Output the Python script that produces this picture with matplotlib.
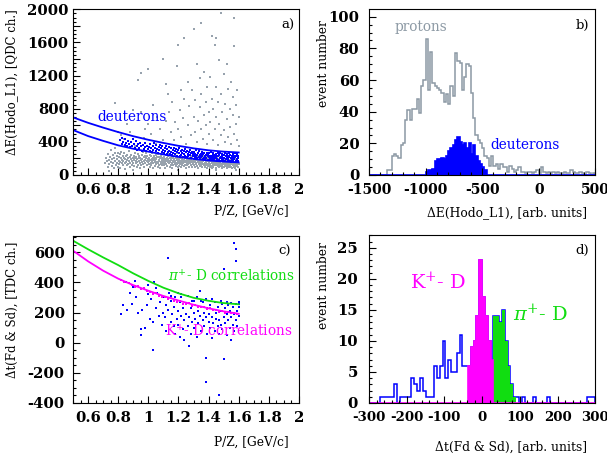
import numpy as np
import matplotlib
matplotlib.use("Agg")
import matplotlib.pyplot as plt
from matplotlib.ticker import MultipleLocator, FuncFormatter

plt.rcParams['font.family'] = ['DejaVu Serif']
plt.rcParams['mathtext.fontset'] = 'dejavuserif'
plt.rcParams['axes.unicode_minus'] = False

GRAY = '#97a2ad'
BLUE = '#0000ff'
MAG = '#ff00ff'
GREEN = '#11dd11'

# ---------------- panel a data ----------------
gray_band_pts = [
(0.712,140),(0.718,210),(0.724,165),(0.729,95),(0.733,250),(0.738,185),(0.741,130),(0.746,220),(0.749,160),(0.753,300),(0.757,110),(0.760,195),(0.764,240),(0.768,150),(0.771,80),(0.775,205),(0.779,175),(0.782,270),(0.786,125),(0.789,230),(0.792,190),(0.795,145),(0.797,100),(0.799,260),(0.776,330),
(0.802,175),(0.805,215),(0.807,130),(0.810,250),(0.812,160),(0.815,90),(0.818,200),(0.821,280),(0.823,145),(0.826,185),(0.829,230),(0.831,115),(0.834,170),(0.837,210),(0.840,260),(0.842,140),(0.845,195),(0.848,75),(0.851,225),(0.853,160),(0.856,120),(0.859,245),(0.861,180),(0.864,205),(0.867,135),(0.870,290),(0.872,165),(0.875,100),(0.878,220),(0.881,150),(0.884,190),(0.887,240),(0.889,125),(0.893,175),(0.897,210),
(0.901,150),(0.903,235),(0.906,185),(0.908,110),(0.911,205),(0.913,265),(0.916,140),(0.918,175),(0.921,220),(0.923,95),(0.926,190),(0.928,160),(0.931,250),(0.933,125),(0.936,200),(0.938,170),(0.941,230),(0.943,145),(0.946,80),(0.948,210),(0.951,180),(0.953,120),(0.956,240),(0.958,155),(0.961,195),(0.963,275),(0.966,135),(0.968,215),(0.971,165),(0.973,100),(0.976,185),(0.978,225),(0.981,145),(0.983,205),(0.986,260),(0.988,115),(0.991,175),(0.993,235),(0.996,155),(0.998,195),
(1.002,130),(1.004,210),(1.007,170),(1.009,245),(1.011,95),(1.013,185),(1.016,150),(1.018,225),(1.020,120),(1.023,195),(1.025,165),(1.027,260),(1.029,140),(1.032,205),(1.034,80),(1.036,180),(1.038,230),(1.041,155),(1.043,110),(1.045,200),(1.047,170),(1.050,240),(1.052,135),(1.054,190),(1.056,215),(1.059,160),(1.061,100),(1.063,250),(1.065,145),(1.068,185),(1.070,125),(1.072,220),(1.074,175),(1.077,90),(1.079,200),(1.081,155),(1.083,235),(1.086,130),(1.088,180),(1.090,210),(1.092,115),(1.095,165),(1.097,195),(1.099,145),(1.094,270),
(1.102,175),(1.104,120),(1.106,215),(1.109,150),(1.111,195),(1.113,90),(1.115,240),(1.118,165),(1.120,135),(1.122,205),(1.124,180),(1.127,110),(1.129,225),(1.131,155),(1.133,190),(1.136,140),(1.138,255),(1.140,170),(1.142,100),(1.145,210),(1.147,160),(1.149,125),(1.151,185),(1.154,230),(1.156,145),(1.158,200),(1.160,85),(1.163,175),(1.165,120),(1.167,215),(1.169,155),(1.172,190),(1.174,135),(1.176,245),(1.178,170),(1.181,105),(1.183,200),(1.185,150),(1.187,180),(1.190,130),(1.192,220),(1.194,160),(1.196,95),(1.198,190),(1.188,265),
(1.201,140),(1.203,185),(1.205,110),(1.208,210),(1.210,160),(1.212,130),(1.214,235),(1.217,175),(1.219,95),(1.221,195),(1.223,150),(1.226,120),(1.228,220),(1.230,165),(1.232,140),(1.235,185),(1.237,105),(1.239,250),(1.241,155),(1.244,200),(1.246,125),(1.248,175),(1.250,90),(1.253,215),(1.255,145),(1.257,180),(1.259,115),(1.262,230),(1.264,160),(1.266,135),(1.268,195),(1.271,100),(1.273,170),(1.275,210),(1.277,140),(1.280,185),(1.282,120),(1.284,155),(1.286,225),(1.289,165),(1.291,95),(1.293,200),(1.295,135),(1.297,175),(1.299,150),
(1.301,125),(1.303,190),(1.305,155),(1.308,100),(1.310,215),(1.312,170),(1.314,135),(1.317,240),(1.319,145),(1.321,180),(1.323,110),(1.326,200),(1.328,160),(1.330,85),(1.332,225),(1.335,130),(1.337,175),(1.339,150),(1.341,105),(1.344,195),(1.346,140),(1.348,165),(1.350,120),(1.353,210),(1.355,180),(1.357,95),(1.359,150),(1.362,230),(1.364,130),(1.366,170),(1.368,115),(1.371,190),(1.373,145),(1.375,100),(1.377,205),(1.380,160),(1.382,125),(1.384,180),(1.386,140),(1.389,215),(1.391,90),(1.393,165),(1.395,135),(1.397,195),(1.399,110),
(1.401,150),(1.403,120),(1.405,185),(1.408,95),(1.410,165),(1.412,135),(1.414,210),(1.417,110),(1.419,175),(1.421,145),(1.423,80),(1.426,195),(1.428,125),(1.430,160),(1.432,100),(1.435,230),(1.437,140),(1.439,170),(1.441,115),(1.444,185),(1.446,130),(1.448,90),(1.450,155),(1.453,200),(1.455,120),(1.457,145),(1.459,175),(1.462,105),(1.464,135),(1.466,190),(1.468,160),(1.471,95),(1.473,125),(1.475,215),(1.477,150),(1.480,110),(1.482,170),(1.484,135),(1.486,85),(1.489,185),(1.491,120),(1.493,155),(1.495,100),(1.497,140),(1.499,175),
(1.501,130),(1.503,95),(1.505,160),(1.508,115),(1.510,190),(1.512,140),(1.514,105),(1.517,170),(1.519,125),(1.521,80),(1.523,150),(1.526,200),(1.528,110),(1.530,135),(1.532,175),(1.535,95),(1.537,155),(1.539,120),(1.541,185),(1.544,140),(1.546,100),(1.548,165),(1.550,130),(1.553,90),(1.555,210),(1.557,145),(1.559,115),(1.562,175),(1.564,135),(1.566,100),(1.568,160),(1.571,120),(1.573,190),(1.575,145),(1.577,85),(1.580,170),(1.582,125),(1.584,105),(1.586,150),(1.589,180),(1.591,115),(1.593,140),(1.595,95),(1.597,160),(1.599,130),
(0.740,50),(0.900,55),(1.200,60),(1.450,60),(1.580,65),
]

gray_sparse_pts = [
(0.78,870),(0.80,520),(0.82,480),(0.84,430),(0.86,610),(0.88,520),(0.90,790),(0.91,350),(0.93,1150),(0.95,1230),(0.95,760),(0.97,450),(0.98,560),(1.00,1280),(1.00,620),(1.02,500),(1.03,840),(1.05,380),(1.06,700),(1.08,560),(1.10,1400),(1.10,420),(1.12,1100),(1.12,650),(1.13,980),(1.14,760),(1.15,520),(1.16,880),(1.17,420),(1.18,640),(1.19,1320),(1.20,1570),(1.20,560),(1.21,780),(1.22,1020),(1.22,460),(1.23,690),(1.24,1650),(1.24,920),(1.25,380),(1.26,1120),(1.26,600),(1.27,830),(1.28,480),(1.29,1020),(1.30,1760),(1.30,700),(1.31,900),(1.31,520),(1.32,1340),(1.32,400),(1.33,650),(1.34,1170),(1.34,820),(1.35,560),(1.35,980),(1.36,440),(1.37,1240),(1.37,720),(1.38,600),(1.38,880),(1.39,1060),(1.39,370),(1.40,760),(1.40,500),(1.41,1180),(1.41,640),(1.42,1680),(1.42,920),(1.43,420),(1.43,800),(1.44,1570),(1.44,560),(1.45,1060),(1.45,700),(1.46,360),(1.46,880),(1.47,1390),(1.47,620),(1.48,1950),(1.48,480),(1.48,980),(1.49,760),(1.50,1220),(1.50,540),(1.51,860),(1.51,400),(1.52,1340),(1.52,680),(1.53,1040),(1.53,460),(1.54,800),(1.54,580),(1.55,1120),(1.55,380),(1.56,720),(1.56,940),(1.57,1900),(1.57,1560),(1.57,500),(1.58,840),(1.58,620),(1.59,1020),(1.59,420),(1.60,700),(1.60,350),(1.45,1650),(1.35,1840),
]

blue_a_pts = [
(0.815,420),(0.822,380),(0.828,450),(0.835,400),(0.842,365),(0.848,430),(0.855,390),(0.861,345),(0.868,410),(0.874,370),(0.881,335),(0.887,395),(0.894,355),(0.899,430),
(0.905,380),(0.911,330),(0.917,405),(0.922,350),(0.928,300),(0.934,375),(0.940,325),(0.946,390),(0.951,345),(0.957,295),(0.963,360),(0.969,315),(0.975,385),(0.981,335),(0.987,290),(0.993,355),(0.998,310),
(1.004,340),(1.009,295),(1.014,370),(1.019,320),(1.024,275),(1.029,350),(1.034,305),(1.039,385),(1.044,330),(1.049,285),(1.054,360),(1.059,315),(1.064,270),(1.069,340),(1.074,300),(1.079,365),(1.084,320),(1.089,280),(1.094,345),(1.099,305),
(1.103,265),(1.108,330),(1.112,290),(1.117,355),(1.121,250),(1.126,310),(1.130,275),(1.135,340),(1.139,295),(1.144,255),(1.148,320),(1.153,280),(1.157,240),(1.162,305),(1.166,265),(1.171,330),(1.175,290),(1.180,250),(1.184,315),(1.189,275),(1.193,235),(1.198,300),
(1.202,260),(1.206,320),(1.210,230),(1.214,285),(1.218,245),(1.222,305),(1.226,265),(1.230,220),(1.234,290),(1.238,250),(1.242,310),(1.246,235),(1.250,275),(1.254,215),(1.258,295),(1.262,255),(1.266,230),(1.270,280),(1.274,240),(1.278,300),(1.282,260),(1.286,210),(1.290,275),(1.294,235),(1.298,255),
(1.302,230),(1.305,280),(1.309,205),(1.312,255),(1.316,225),(1.319,300),(1.323,245),(1.326,200),(1.330,265),(1.333,220),(1.337,285),(1.340,240),(1.344,195),(1.347,255),(1.351,215),(1.354,275),(1.358,230),(1.361,190),(1.365,250),(1.368,210),(1.372,270),(1.375,225),(1.379,195),(1.382,245),(1.386,205),(1.389,265),(1.393,230),(1.396,185),(1.399,250),
(1.402,215),(1.405,260),(1.408,190),(1.411,235),(1.414,200),(1.417,275),(1.420,225),(1.423,180),(1.426,245),(1.429,205),(1.432,265),(1.435,220),(1.438,185),(1.441,240),(1.444,200),(1.447,255),(1.450,215),(1.453,175),(1.456,235),(1.459,195),(1.462,270),(1.465,225),(1.468,180),(1.471,245),(1.474,205),(1.477,260),(1.480,215),(1.483,175),(1.486,235),(1.489,195),(1.492,255),(1.495,210),(1.498,180),
(1.502,240),(1.505,200),(1.508,260),(1.511,170),(1.514,225),(1.517,190),(1.520,250),(1.523,210),(1.526,170),(1.529,235),(1.532,195),(1.535,265),(1.538,215),(1.541,175),(1.544,240),(1.547,200),(1.550,160),(1.553,225),(1.556,185),(1.559,255),(1.562,210),(1.565,170),(1.568,235),(1.571,195),(1.574,260),(1.577,215),(1.580,165),(1.583,230),(1.586,190),(1.589,250),(1.592,205),(1.595,170),(1.598,235),
]

curve_p = [0.5, 0.6, 0.7, 0.8, 0.9, 1.0, 1.1, 1.2, 1.3, 1.4, 1.5, 1.6]
deut_upper = [696, 630, 572, 518, 468, 425, 387, 352, 322, 298, 282, 272]
deut_lower = [543, 470, 412, 358, 317, 282, 248, 218, 194, 175, 162, 152]

# ---------------- panel b data ----------------
b_edges = np.arange(-1500, 501, 20)
protons = [0,0,0,0,0,0,0,0,3,3,
           12,13,12,11,19,20,35,41,35,42,
           42,48,39,56,60,86,54,78,58,56,
           55,54,52,46,51,45,56,50,77,72,
           71,54,62,70,69,52,36,25,22,20,
           17,12,11,6,12,6,7,4,7,5,
           5,2,6,4,2,3,5,2,2,1,
           2,2,1,2,3,1,5,2,1,2,
           1,2,1,2,1,1,2,1,1,3,
           2,1,1,2,1,0,2,1,0,1]
deuterons = [0]*25 + [2,3,3,4,9,10,10,11,10,12,15,17,19,22,24,21,19,20,17,20,13,19,12,9,7,5,3] + [0]*48

# ---------------- panel c data ----------------
blue_c_pts = [
(0.82,190),(0.83,250),(0.86,220),(0.88,330),(0.89,260),(0.91,410),(0.92,300),(0.93,200),(0.95,90),(0.95,50),(0.96,220),(0.97,360),(0.98,100),(0.99,250),(1.00,320),(1.01,160),(1.02,290),(1.03,140),(1.03,-50),(1.04,400),(1.05,230),(1.06,330),(1.07,180),(1.08,270),(1.09,120),(1.10,300),(1.10,200),(1.11,170),(1.12,250),(1.12,80),(1.13,560),(1.13,220),(1.14,330),(1.15,140),(1.15,280),(1.16,190),(1.17,110),(1.17,240),(1.18,60),(1.18,300),(1.19,160),(1.20,210),(1.20,120),(1.21,270),(1.21,40),(1.22,180),(1.22,320),(1.23,90),(1.23,230),(1.24,150),(1.24,20),(1.25,260),(1.25,190),(1.26,110),(1.26,310),(1.27,-20),(1.27,170),(1.28,230),(1.28,60),(1.29,140),(1.29,280),(1.30,200),(1.30,100),(1.31,250),(1.31,160),(1.32,40),(1.32,300),(1.33,130),(1.33,210),(1.34,180),(1.34,340),(1.35,80),(1.35,240),(1.36,150),(1.36,270),(1.37,110),(1.37,200),(1.38,-100),(1.38,-260),(1.38,170),(1.38,290),(1.39,60),(1.39,230),(1.40,140),(1.40,190),(1.41,250),(1.41,100),(1.42,170),(1.42,30),(1.43,220),(1.43,130),(1.44,270),(1.44,80),(1.45,160),(1.45,200),(1.46,110),(1.46,240),(1.47,-350),(1.47,150),(1.47,60),(1.48,210),(1.48,120),(1.49,260),(1.49,90),(1.50,490),(1.50,170),(1.50,-110),(1.51,230),(1.51,130),(1.52,190),(1.52,50),(1.53,250),(1.53,150),(1.54,100),(1.54,210),(1.55,20),(1.55,170),(1.56,240),(1.56,120),(1.57,660),(1.57,190),(1.57,80),(1.58,620),(1.58,540),(1.58,150),(1.58,260),(1.59,210),(1.59,110),(1.60,240),(1.60,180),(1.60,270),
(1.05,360),(1.15,310),(1.22,300),(1.30,280),(1.35,280),(1.42,290),(1.48,280),(1.52,270),(1.55,265),(1.60,255),(1.20,330),(0.90,370),(1.00,380),(0.85,400),
]
mag_c_pts = [
(0.82,415),(0.84,400),(0.87,395),(0.89,380),(0.91,370),(0.93,375),(0.95,355),(0.97,360),(0.99,340),(1.01,335),(1.03,320),(1.05,330),(1.07,310),(1.09,305),(1.11,300),(1.13,290),(1.15,295),(1.17,280),(1.19,270),(1.21,275),(1.23,260),(1.25,255),(1.27,262),(1.29,245),(1.31,250),(1.33,240),(1.35,235),(1.37,238),(1.39,225),(1.41,228),(1.43,215),(1.45,220),(1.47,205),(1.49,210),(1.51,200),(1.53,205),(1.55,195),(1.57,198),(1.59,190),
]
pi_curve = [677, 620, 566, 515, 460, 410, 365, 328, 298, 278, 263, 255]
k_curve = [611, 540, 478, 425, 382, 345, 310, 280, 252, 228, 208, 192]

# ---------------- panel d data ----------------
d_edges = np.linspace(-300, 300, 81)
all_corr = [0,0,0,0,1,1,1,1,1,3,
            0,1,1,1,1,4,3,2,4,2,
            1,1,1,6,4,6,10,4,7,5,
            5,8,11,6,6,6,9,10,14,23,
            17,14,10,7,14,14,13,15,10,6,
            3,1,1,0,1,0,0,0,1,0,
            0,0,0,1,0,0,0,0,0,0,
            0,0,0,0,0,0,0,1,1,1]
k_corr = [0]*35 + [6,9,10,14,23,17,14,10,7] + [0]*36
pi_corr = [0]*44 + [14,14,13,15,10,6,3,1] + [0]*28

# ---------------- figure ----------------
W, H = 607, 459
fig = plt.figure(figsize=(W/100, H/100), dpi=100)
axa = fig.add_axes([73/W, (H-175)/H, (299-73)/W, (175-9.3)/H])
axb = fig.add_axes([369/W, (H-175)/H, (595.3-369)/W, (175-9.3)/H])
axc = fig.add_axes([73/W, (H-403)/H, (299-73)/W, (403-236)/H])
axd = fig.add_axes([369/W, (H-403)/H, (595.3-369)/W, (403-235.3)/H])

def style(ax, xmaj, xmin, ymaj, ymin, ypad, xfs, yfs):
    ax.xaxis.set_major_locator(MultipleLocator(xmaj))
    ax.xaxis.set_minor_locator(MultipleLocator(xmin))
    ax.yaxis.set_major_locator(MultipleLocator(ymaj))
    ax.yaxis.set_minor_locator(MultipleLocator(ymin))
    ax.tick_params(which='both', direction='in', top=False, right=False, width=0.8)
    ax.tick_params(which='major', length=5)
    ax.tick_params(which='minor', length=2.5)
    ax.tick_params(axis='x', which='major', pad=6, labelsize=xfs)
    ax.tick_params(axis='y', which='major', pad=ypad, labelsize=yfs)
    for s in ax.spines.values():
        s.set_linewidth(0.8)

def bold_labels(ax):
    for lab in ax.get_xticklabels() + ax.get_yticklabels():
        lab.set_fontweight('bold')

def unzip(pts):
    return [p[0] for p in pts], [p[1] for p in pts]

# panel a
gx, gy = unzip(gray_band_pts)
axa.scatter(gx, gy, s=2.0, marker='s', c=GRAY, linewidths=0)
sx, sy = unzip(gray_sparse_pts)
axa.scatter(sx, sy, s=0.9, marker='s', c=GRAY, linewidths=0)
bx, by = unzip(blue_a_pts)
axa.scatter(bx, by, s=1.7, marker='s', c=BLUE, linewidths=0)
axa.plot(curve_p, deut_upper, color=BLUE, lw=1.3)
axa.plot(curve_p, deut_lower, color=BLUE, lw=1.3)
axa.set_xlim(0.5, 2.0)
axa.set_ylim(0, 2000)
style(axa, 0.2, 0.05, 200, 50, 3, 10.6, 10.6)
axa.yaxis.set_major_formatter(FuncFormatter(lambda v, p: f"{int(round(v))}" if int(round(v)) % 400 == 0 else ""))
axa.xaxis.set_major_formatter(FuncFormatter(lambda v, p: f"{v:g}"))
bold_labels(axa)
axa.text(0.659, 696, 'deuterons', color=BLUE, fontsize=9.8, va='center', ha='left')
axa.text(0.951, 0.905, 'a)', transform=axa.transAxes, fontsize=9.5, ha='center', va='center')
axa.text(0.952, -0.221, 'P/Z, [GeV/c]', transform=axa.transAxes, fontsize=8.8, ha='right', va='center')
axa.text(-0.27, 1.0, 'ΔE(Hodo_L1), [QDC ch.]', transform=axa.transAxes, fontsize=8.5, ha='center', va='top', rotation=90)

# panel b
axb.stairs(protons, b_edges, color='#8c99a4', lw=1.1)
axb.stairs(deuterons, b_edges, fill=True, color=BLUE)
axb.stairs(deuterons, b_edges, color=BLUE, lw=1.2)
axb.set_xlim(-1500, 500)
axb.set_ylim(0, 104.7)
style(axb, 500, 100, 20, 5, 7, 10.0, 10.6)
bold_labels(axb)
axb.text(-1270, 93.7, 'protons', color='#8c99a4', fontsize=9.8, va='center', ha='left')
axb.text(-424, 19, 'deuterons', color=BLUE, fontsize=9.8, va='center', ha='left')
axb.text(0.944, 0.905, 'b)', transform=axb.transAxes, fontsize=9.5, ha='center', va='center')
axb.text(0.963, -0.23, 'ΔE(Hodo_L1), [arb. units]', transform=axb.transAxes, fontsize=8.8, ha='right', va='center')
axb.text(-0.202, 0.935, 'event number', transform=axb.transAxes, fontsize=8.8, ha='center', va='top', rotation=90)

# panel c
cx, cy = unzip(blue_c_pts)
axc.scatter(cx, cy, s=1.8, marker='s', c=BLUE, linewidths=0)
mx, my = unzip(mag_c_pts)
axc.scatter(mx, my, s=2.5, marker='s', c=MAG, linewidths=0)
axc.plot(curve_p, pi_curve, color=GREEN, lw=1.3)
axc.plot(curve_p, k_curve, color=MAG, lw=1.3)
axc.set_xlim(0.5, 2.0)
axc.set_ylim(-400, 708)
style(axc, 0.2, 0.05, 200, 50, 6, 10.6, 10.6)
axc.xaxis.set_major_formatter(FuncFormatter(lambda v, p: f"{v:g}"))
bold_labels(axc)
axc.text(1.131, 445, r'$\pi^{+}$- D correlations', color=GREEN, fontsize=9.8, va='center', ha='left')
axc.text(1.109, 80, r'K$^{+}$- D correlations', color=MAG, fontsize=9.8, va='center', ha='left')
axc.text(0.938, 0.906, 'c)', transform=axc.transAxes, fontsize=9.5, ha='center', va='center')
axc.text(0.952, -0.233, 'P/Z, [GeV/c]', transform=axc.transAxes, fontsize=8.8, ha='right', va='center')
axc.text(-0.27, 0.964, 'Δt(Fd & Sd), [TDC ch.]', transform=axc.transAxes, fontsize=8.5, ha='center', va='top', rotation=90)

# panel d
axd.stairs(all_corr, d_edges, color=BLUE, lw=1.1)
axd.stairs(k_corr, d_edges, fill=True, color=MAG)
axd.stairs(pi_corr, d_edges, fill=True, color=GREEN)
axd.stairs(k_corr, d_edges, color=MAG, lw=1.2)
axd.set_xlim(-300, 300)
axd.set_ylim(0, 27)
style(axd, 100, 20, 5, 1, 8, 9.6, 10.6)
bold_labels(axd)
axd.text(-191, 19.4, r'K$^{+}$- D', color=MAG, fontsize=14, va='center', ha='left')
axd.text(82.6, 14.3, r'$\pi^{+}$- D', color=GREEN, fontsize=14, va='center', ha='left')
axd.text(0.94, 0.91, 'd)', transform=axd.transAxes, fontsize=9.5, ha='center', va='center')
axd.text(0.963, -0.263, 'Δt(Fd & Sd), [arb. units]', transform=axd.transAxes, fontsize=8.8, ha='right', va='center')
axd.text(-0.202, 0.96, 'event number', transform=axd.transAxes, fontsize=8.8, ha='center', va='top', rotation=90)

fig.savefig('out.png', dpi=100)
